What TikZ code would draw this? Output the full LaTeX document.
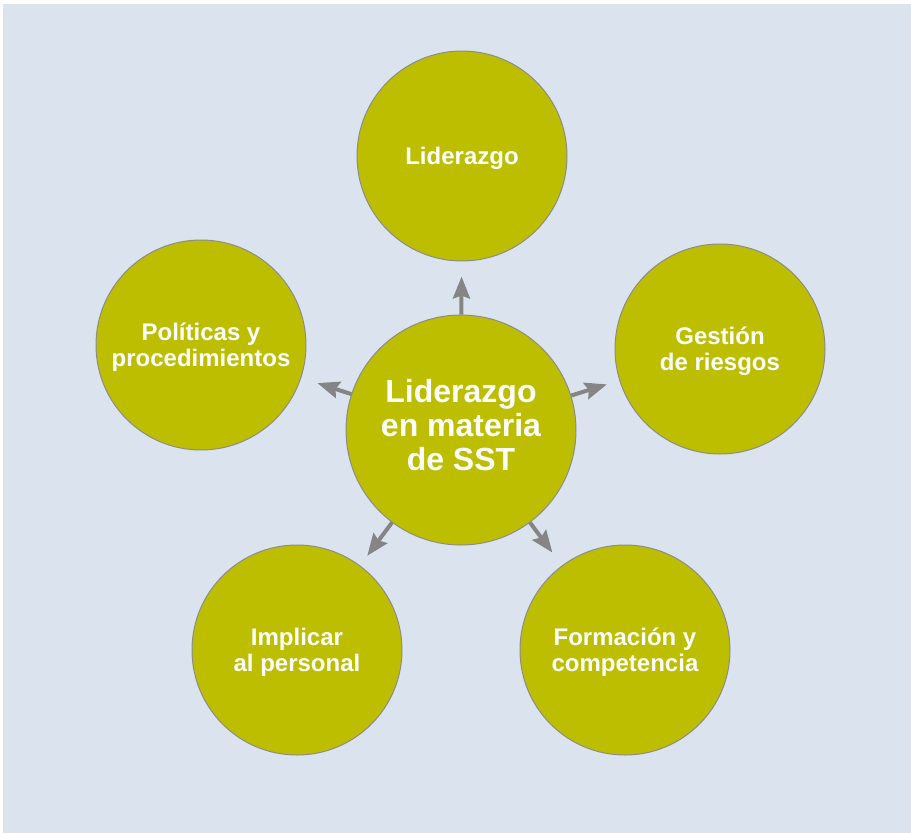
\documentclass[tikz,border=0pt]{standalone}
\usepackage{fontspec}
\setmainfont{Liberation Sans}
\usetikzlibrary{arrows.meta}
\definecolor{bgc}{HTML}{DBE4EE}
\definecolor{olivefill}{HTML}{BDBE00}
\definecolor{edgec}{HTML}{8C8C8C}
\definecolor{arrc}{HTML}{858585}
\newcommand{\ctxt}[1]{\raisebox{-3.5pt}[\height][\depth]{\begin{tabular}{@{}c@{}}#1\end{tabular}}}
\newcommand{\htxt}[1]{\begin{tabular}{@{}c@{}}#1\end{tabular}}
\tikzset{
  outer/.style={circle, fill=olivefill, draw=edgec, line width=1pt, minimum size=210pt, inner sep=0pt,
    text=white, align=center, font=\bfseries\fontsize{24}{26}\selectfont},
  hub/.style={outer, minimum size=230pt, font=\bfseries\fontsize{32}{34}\selectfont},
  conn/.style={draw=arrc, line width=4pt, -{Stealth[length=22pt, width=17pt, inset=3pt]}}
}
\begin{document}
\begin{tikzpicture}[x=1pt,y=-1pt]
\useasboundingbox (0,0) rectangle (911,833);
\fill[white] (0,0) rectangle (911,833);
\fill[bgc] (3,4) rectangle (911,833);
\node[hub] (c) at (461,430) {\htxt{Liderazgo\\en materia\\de SST}};
\node[outer] (t) at (462,156) {\ctxt{Liderazgo}};
\node[outer] (l) at (201,345) {\ctxt{Políticas y\\procedimientos}};
\node[outer] (r) at (720,349) {\ctxt{Gestión\\de riesgos}};
\node[outer] (bl) at (297,650) {\ctxt{Implicar\\al personal}};
\node[outer] (br) at (625,650) {\ctxt{Formación y\\competencia}};
\draw[conn, shorten >=15pt] (c) -- (t);
\draw[conn, shorten >=17pt] (c) -- (l);
\draw[conn, shorten >=13pt] (c) -- (r);
\draw[conn, shorten >=12pt] (c) -- (bl);
\draw[conn, shorten >=16pt] (c) -- (br);
\end{tikzpicture}
\end{document}
